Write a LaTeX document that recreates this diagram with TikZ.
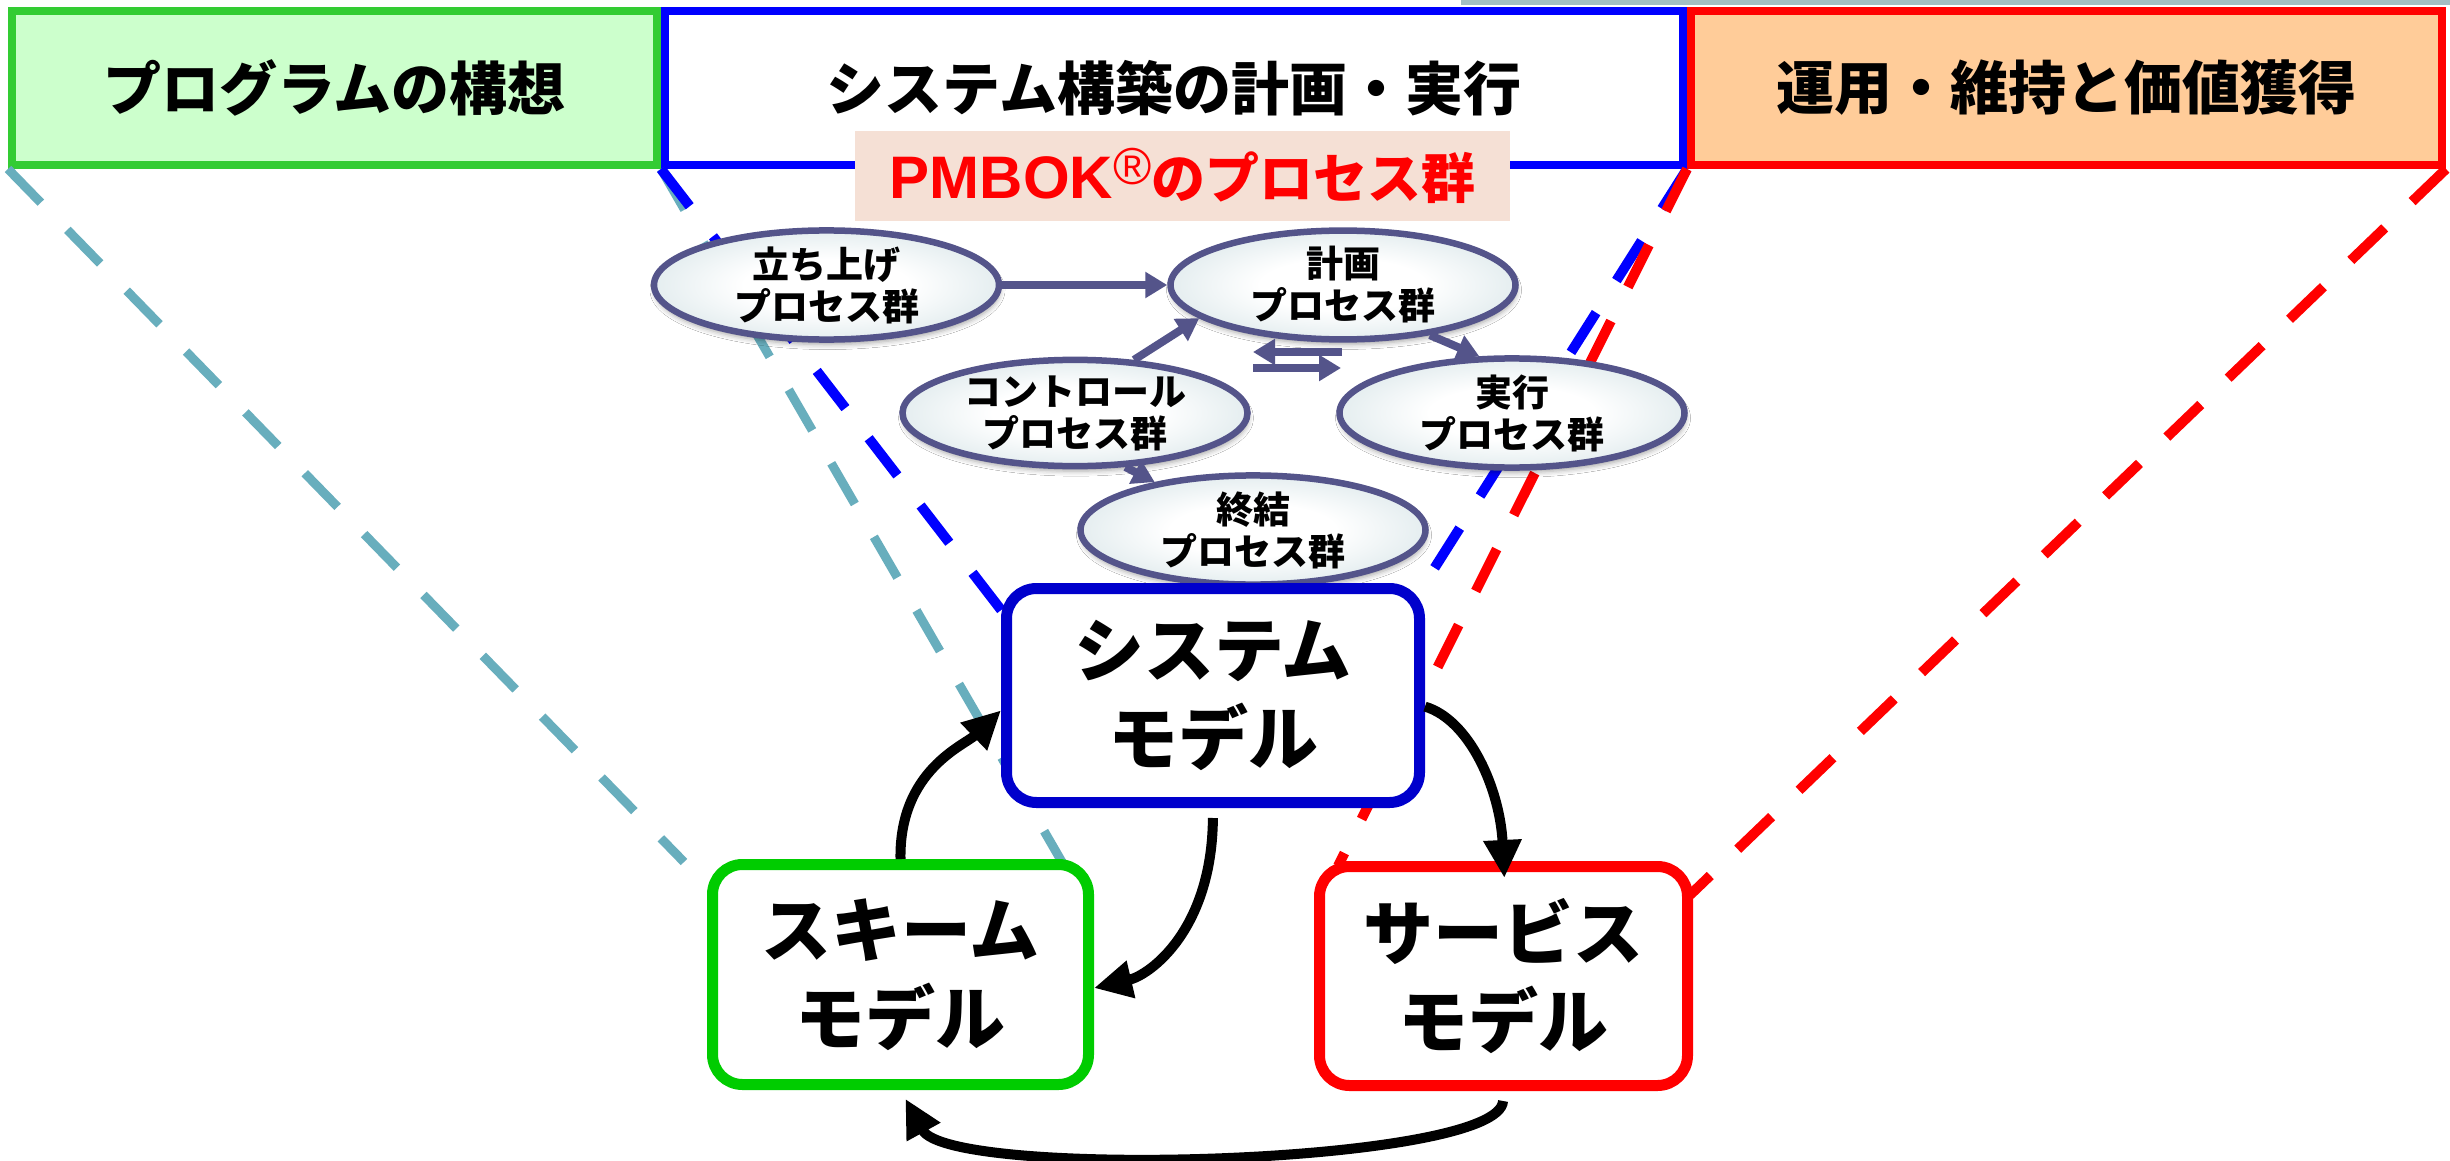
\documentclass[tikz,border=0pt]{standalone}
\usepackage{fontspec}
\setmainfont{Liberation Sans}
\newfontfamily\jp{Noto Sans CJK JP}
\newfontfamily\lat{Liberation Sans}
\usetikzlibrary{arrows.meta,shapes.geometric,shadows.blur}

\definecolor{tgreen}{RGB}{51,204,51}
\definecolor{tgreenfill}{RGB}{204,255,204}
\definecolor{tblue}{RGB}{0,0,255}
\definecolor{tred}{RGB}{255,0,0}
\definecolor{torange}{RGB}{255,204,153}
\definecolor{sysblue}{RGB}{0,0,204}
\definecolor{schgreen}{RGB}{0,204,0}
\definecolor{tealline}{RGB}{104,174,189}
\definecolor{peach}{RGB}{245,224,213}
\definecolor{slate}{RGB}{84,84,138}
\definecolor{ellblue}{RGB}{178,204,210}
\definecolor{topgray}{RGB}{163,190,195}
\pgfdeclareradialshading{ellshade}{\pgfpoint{0bp}{0bp}}{color(0bp)=(white); color(12bp)=(white); color(50bp)=(ellblue)}

\begin{document}
\begin{tikzpicture}[x=1pt,y=-1pt,
  topbox/.style={draw, line width=8pt, minimum height=154pt, inner sep=0pt,
    font=\jp\bfseries\fontsize{58}{60}\selectfont},
  modelbox/.style={draw, line width=11pt, rounded corners=30pt, fill=white,
    inner sep=0pt, align=center, font=\jp\bfseries\fontsize{70}{88}\selectfont},
  proc/.style={ellipse, draw=slate, line width=6.5pt, shade, shading=ellshade,
    minimum width=345pt, minimum height=94pt, inner sep=0pt, align=center,
    font=\jp\bfseries\fontsize{37}{42}\selectfont,
    blur shadow={shadow xshift=1pt, shadow yshift=-5pt, shadow blur radius=5pt, shadow opacity=35}},
  procarrow/.style={draw=slate, line width=8pt, -{Triangle[length=22pt,width=25pt]}},
  bigarrow/.style={draw=black, line width=10pt, -{Triangle[length=38pt,width=36pt]}},
  dashline/.style={line width=10pt, dash pattern=on 47pt off 38pt}
]
\useasboundingbox (0,0) rectangle (2450,1161);
\fill[white] (0,0) rectangle (2450,1161);
\fill[topgray] (1461,0) rectangle (2450,5);

% top headers
\node[topbox, draw=tgreen, fill=tgreenfill, minimum width=645pt] (prog) at (334.5,88) {プログラムの構想};
\node[topbox, draw=tblue, fill=white, minimum width=1018pt] (build) at (1174,88) {システム構築の計画・実行};
\node[topbox, draw=tred, fill=torange, minimum width=751pt] (ops) at (2066.5,88) {運用・維持と価値獲得};

% free ends of the dashed guide lines
\coordinate (t1end) at (684,862);
\coordinate (t2end) at (1062,862);
\coordinate (b1end) at (1005,615);
\coordinate (b2end) at (1425,583);
\coordinate (r1end) at (1338,866);
\coordinate (r2end) at (1690,895);

\node[fill=peach, minimum width=655pt, minimum height=90pt, inner sep=0pt,
  text height=45pt, text depth=0pt] (pmbok) at (1182.5,176)
  {\color{tred}\lat\bfseries\fontsize{60}{60}\selectfont PMBOK\raisebox{14pt}{\fontseries{m}\fontsize{52}{52}\selectfont ®}\jp\bfseries\fontsize{54}{60}\selectfont のプロセス群};

% dashed guide lines
\draw[dashline, tealline, line width=9pt] (prog.south west) -- (t1end);
\draw[dashline, tealline, line width=9pt] (build.south west) -- (t2end);
\draw[dashline, tblue] (build.south west) -- (b1end);
\draw[dashline, tblue] (build.south east) -- (b2end);
\draw[dashline, tred] (ops.south west) -- (r1end);
\draw[dashline, tred] (ops.south east) -- (r2end);

% process groups
\node[proc] (init) at (826.5,285) {立ち上げ\\プロセス群};
\node[proc] (plan) at (1343,285) {計画\\プロセス群};
\node[proc] (ctrl) at (1075,413) {コントロール\\プロセス群};
\node[proc] (exec) at (1512,413) {実行\\プロセス群};
\node[proc] (close) at (1253,530) {終結\\プロセス群};

\draw[procarrow] (init.east) -- (plan.west);
\draw[procarrow] (ctrl.42) -- (plan.193);
\draw[procarrow] (plan.-30) -- (exec.120);
\draw[procarrow] (ctrl.-47) -- (close.154);
\coordinate (sa1) at (1342,352);
\coordinate (sa2) at (1253,352);
\coordinate (sb1) at (1253,368);
\coordinate (sb2) at (1341,368);
\draw[procarrow] (sa1) -- (sa2);
\draw[procarrow] (sb1) -- (sb2);

% models
\node[modelbox, draw=sysblue, minimum width=413pt, minimum height=214pt] (system) at (1213,695.5) {システム\\モデル};
\node[modelbox, draw=schgreen, minimum width=376pt, minimum height=220pt] (scheme) at (900.5,974.5) {スキーム\\モデル};
\node[modelbox, draw=tred, minimum width=368pt, minimum height=219pt] (service) at (1503.5,976) {サービス\\モデル};

% cycle arrows
\draw[bigarrow] (scheme.north) .. controls (899,770) and (965,745) .. (system.184);
\draw[bigarrow, shorten <=10pt] (system.south) .. controls (1212,930) and (1150,975) .. (scheme.-4);
\draw[bigarrow, shorten >=-17pt] (system.-3) .. controls (1470,720) and (1500,790) .. (service.north);
\draw[bigarrow, shorten <=10pt, shorten >=10pt] (service.south) .. controls (1500,1165) and (950,1180) .. (scheme.south);
\end{tikzpicture}
\end{document}
